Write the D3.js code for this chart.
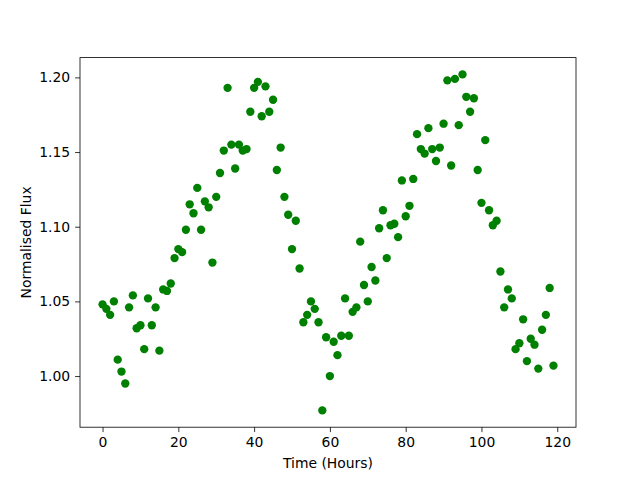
<!DOCTYPE html>
<html><head><meta charset="utf-8">
<script src="https://cdn.jsdelivr.net/npm/d3@7"></script>
<style>body{margin:0;background:#fff}svg{display:block}text{font-family:"DejaVu Sans",sans-serif}</style>
</head><body>
<svg id="c" width="640" height="480"></svg>
<script>
const hours = d3.range(0, 120);
const flux = [
1.048,1.045,1.041,1.050,1.011,1.003,0.995,1.046,1.054,1.032,
1.034,1.018,1.052,1.034,1.046,1.017,1.058,1.057,1.062,1.079,
1.085,1.083,1.098,1.115,1.109,1.126,1.098,1.117,1.113,1.076,
1.120,1.136,1.151,1.193,1.155,1.139,1.155,1.151,1.152,1.177,
1.193,1.197,1.174,1.194,1.177,1.185,1.138,1.153,1.120,1.108,
1.085,1.104,1.072,1.036,1.041,1.050,1.045,1.036,0.977,1.026,
1.000,1.023,1.014,1.027,1.052,1.027,1.043,1.046,1.090,1.061,
1.050,1.073,1.064,1.099,1.111,1.079,1.101,1.102,1.093,1.131,
1.107,1.114,1.132,1.162,1.152,1.149,1.166,1.152,1.144,1.153,
1.169,1.198,1.141,1.199,1.168,1.202,1.187,1.177,1.186,1.138,
1.116,1.158,1.111,1.101,1.104,1.070,1.046,1.058,1.052,1.018,
1.022,1.038,1.010,1.025,1.021,1.005,1.031,1.041,1.059,1.007
];
const xTicks = [0, 20, 40, 60, 80, 100, 120];
const yTicks = [1.00, 1.05, 1.10, 1.15, 1.20];
const xLabel = "Time (Hours)";
const yLabel = "Normalised Flux";

const L = 80, R = 576, T = 57.6, B = 427.2;
const svg = d3.select("#c");
function pad(ext){const r=ext[1]-ext[0];return [ext[0]-0.05*r, ext[1]+0.05*r];}
const x = d3.scaleLinear().domain(pad(d3.extent(hours))).range([L, R]);
const y = d3.scaleLinear().domain(pad(d3.extent(flux))).range([B, T]);

svg.append("g").selectAll("circle").data(hours).join("circle")
  .attr("cx", (d) => x(d)).attr("cy", (d, i) => y(flux[i]))
  .attr("r", 4.17).attr("fill", "#008000");

const xa = svg.append("g").attr("transform", `translate(0,${B})`)
  .call(d3.axisBottom(x).tickValues(xTicks).tickFormat(d3.format("d")).tickSize(4.9).tickPadding(4.9));
const ya = svg.append("g").attr("transform", `translate(${L},0)`)
  .call(d3.axisLeft(y).tickValues(yTicks).tickFormat(d3.format(".2f")).tickSize(4.9).tickPadding(4.9));
[xa, ya].forEach(a => {
  a.select(".domain").remove();
  a.selectAll("line").attr("stroke", "#000").attr("stroke-width", 0.8);
  a.selectAll("text").attr("font-size", "13.9px").attr("fill", "#000").attr("font-family", "DejaVu Sans");
});
svg.append("rect").attr("x", L).attr("y", T).attr("width", R - L).attr("height", B - T)
  .attr("fill", "none").attr("stroke", "#000").attr("stroke-width", 0.8);

svg.append("text").attr("x", (L + R) / 2).attr("y", 468).attr("text-anchor", "middle")
  .attr("font-size", "13.9px").text(xLabel);
svg.append("text").attr("transform", `translate(31,${(T + B) / 2}) rotate(-90)`)
  .attr("text-anchor", "middle").attr("font-size", "13.9px").text(yLabel);
</script>
</body></html>
